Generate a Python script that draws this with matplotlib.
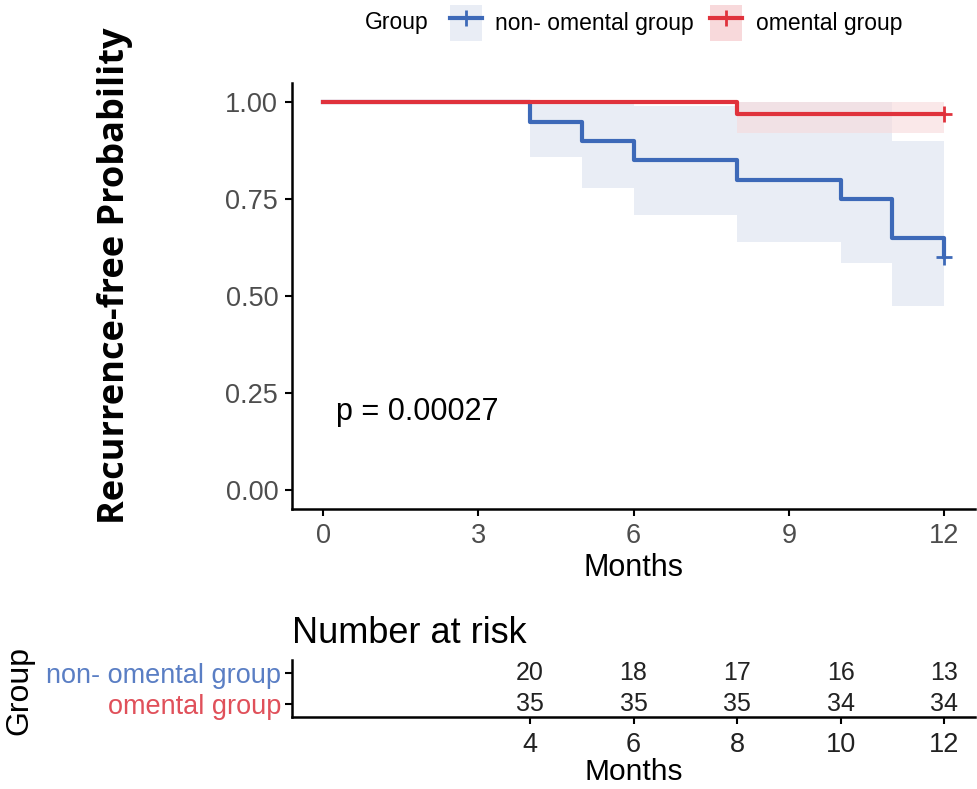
import matplotlib
matplotlib.use('agg')
import matplotlib.pyplot as plt
from matplotlib.patches import Patch
from matplotlib.lines import Line2D

plt.rcParams['font.family'] = ['Liberation Sans', 'DejaVu Sans']

# Kaplan-Meier estimates
non_t = [0, 4, 5, 6, 8, 10, 11, 12]
non_s = [1.0, 0.95, 0.90, 0.85, 0.80, 0.75, 0.65, 0.60]
non_lo = [1.0, 0.86, 0.78, 0.71, 0.64, 0.585, 0.475, 0.475]
non_hi = [1.0, 1.0, 1.0, 0.99, 1.0, 1.0, 0.90, 0.90]

om_t = [0, 8, 12]
om_s = [1.0, 0.971, 0.971]
om_lo = [1.0, 0.92, 0.92]
om_hi = [1.0, 1.0, 1.0]

groups = ['non- omental group', 'omental group']
risk_times = [4, 6, 8, 10, 12]
risk_non = [20, 18, 17, 16, 13]
risk_om = [35, 35, 35, 34, 34]

blue = '#3d69b8'
red = '#e0323c'
blue_band = '#e9edf5'
red_band = '#f8d9db'
gray = '#4d4d4d'

fig = plt.figure(figsize=(9.78, 7.89), dpi=100)

# main survival plot
ax = fig.add_axes([0.2986, 0.3549, 0.6984, 0.5399])
ax.fill_between(non_t, non_lo, non_hi, step='post', color=blue_band, lw=0, zorder=1)
ax.fill_between(om_t, om_lo, om_hi, step='post', color=red_band, alpha=0.6, lw=0, zorder=2)
ax.step(non_t, non_s, where='post', color=blue, lw=3, zorder=3)
ax.step(om_t, om_s, where='post', color=red, lw=3, zorder=4)
ax.plot([non_t[-1]], [non_s[-1]], marker='+', ms=12, mew=2, color=blue, zorder=5)
ax.plot([om_t[-1]], [om_s[-1]], marker='+', ms=12, mew=2, color=red, zorder=5)

ax.set_xlim(-0.6, 12.6)
ax.set_ylim(-0.05, 1.05)
ax.set_xticks([0, 3, 6, 9, 12])
ax.set_yticks([0, 0.25, 0.5, 0.75, 1.0])
ax.set_yticklabels(['0.00', '0.25', '0.50', '0.75', '1.00'])
for s in ['top', 'right']:
    ax.spines[s].set_visible(False)
for s in ['left', 'bottom']:
    ax.spines[s].set_linewidth(1.8)
ax.tick_params(labelsize=19.5, labelcolor=gray, width=1.5, length=5, pad=5)
ax.set_xlabel('Months', fontsize=22, labelpad=3)
ax.text(0.25, 0.2, 'p = 0.00027', fontsize=22, va='center', ha='left')

fig.text(0.1176, 0.651, 'Recurrence-free Probability', rotation=90,
         fontsize=26, fontweight='bold', family='Open Sans', ha='center', va='center')

# legend
handles = [(Patch(facecolor=blue_band, edgecolor='none'),
            Line2D([], [], color=blue, lw=3, marker='+', ms=11, mew=2)),
           (Patch(facecolor=red_band, edgecolor='none'),
            Line2D([], [], color=red, lw=3, marker='+', ms=11, mew=2))]
fig.text(0.373, 0.971, 'Group', fontsize=16.5, va='center', ha='left')
fig.legend(handles=handles, labels=groups, loc='center left',
           bbox_to_anchor=(0.448, 0.971), ncol=2, frameon=False,
           fontsize=16.5, handlelength=1.4, handleheight=2.0,
           handletextpad=0.6, columnspacing=0.7, borderpad=0)

# number at risk table
tab = fig.add_axes([0.2986, 0.0913, 0.6984, 0.0722])
for t, n1, n2 in zip(risk_times, risk_non, risk_om):
    tab.text(t, 1, str(n1), ha='center', va='center', fontsize=18, color='#222222')
    tab.text(t, 0, str(n2), ha='center', va='center', fontsize=18, color='#222222')
tab.set_xlim(-0.6, 12.6)
tab.set_ylim(-0.42, 1.42)
tab.set_xticks(risk_times)
tab.set_yticks([1, 0])
tab.set_yticklabels(groups)
tab.get_yticklabels()[0].set_color('#5a7ec4')
tab.get_yticklabels()[1].set_color('#e0505a')
for s in ['top', 'right']:
    tab.spines[s].set_visible(False)
for s in ['left', 'bottom']:
    tab.spines[s].set_linewidth(1.8)
tab.tick_params(axis='x', labelsize=19.5, labelcolor='#222222', width=1.5, length=5, pad=6)
tab.tick_params(axis='y', labelsize=19.5, width=1.5, length=5, pad=3)
tab.set_xlabel('Months', fontsize=21.5, labelpad=0)
tab.set_title('Number at risk', fontsize=26, loc='left', pad=12)
fig.text(0.02, 0.125, 'Group', rotation=90, fontsize=23, ha='center', va='center')

fig.savefig('out.png', dpi=100)
